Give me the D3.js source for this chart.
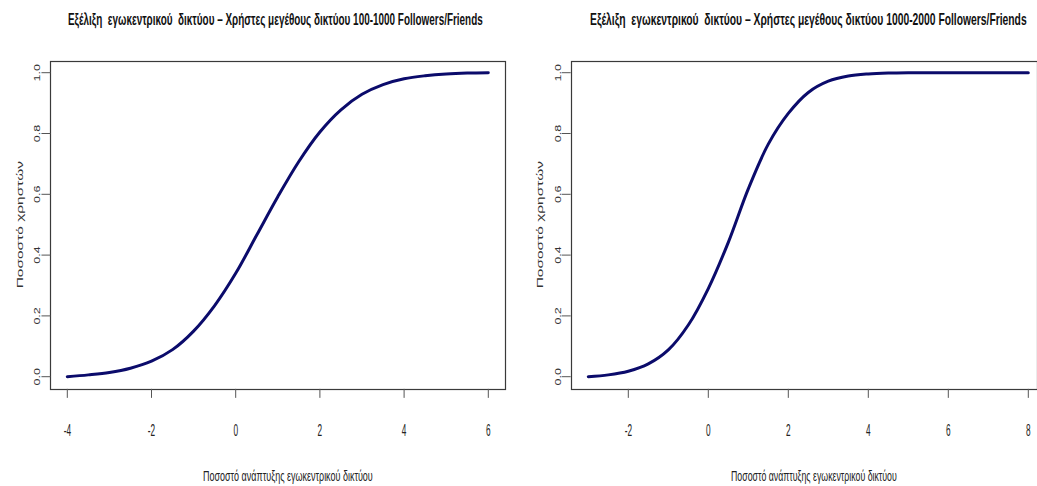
<!DOCTYPE html>
<html>
<head>
<meta charset="utf-8">
<script src="https://cdn.jsdelivr.net/npm/d3@7"></script>
<style>
  html, body { margin: 0; padding: 0; background: #fff; }
  svg { display: block; font-family: "Liberation Sans", Arial, sans-serif; }
  text { white-space: pre; }
</style>
</head>
<body>
<svg id="chart" width="1037" height="486"></svg>
<script>
// Growth curves of the ego-centric network, two user groups
const xLeft  = [-4, -3.5, -3, -2.5, -2, -1.5, -1, -0.5, 0, 0.5, 1, 1.5, 2, 2.5, 3, 3.5, 4, 4.5, 5, 5.5, 6];
const yLeft  = [0.000, 0.006, 0.014, 0.028, 0.051, 0.089, 0.150, 0.234, 0.340, 0.466, 0.592, 0.708, 0.805, 0.878, 0.929, 0.961, 0.980, 0.990, 0.996, 0.999, 1.000];

const xRight = [-3, -2.5, -2, -1.5, -1, -0.5, 0, 0.5, 1, 1.5, 2, 2.5, 3, 3.5, 4, 4.5, 5, 5.5, 6, 6.5, 7, 7.5, 8];
const yRight = [0.000, 0.006, 0.018, 0.042, 0.088, 0.170, 0.290, 0.442, 0.618, 0.765, 0.866, 0.935, 0.972, 0.989, 0.996, 0.999, 1.000, 1.000, 1.000, 1.000, 1.000, 1.000, 1.000];

const xTicksLeft  = [-4, -2, 0, 2, 4, 6];
const xTicksRight = [-2, 0, 2, 4, 6, 8];
const yTicks      = [0, 0.2, 0.4, 0.6, 0.8, 1.0];

const titleLeft  = "Εξέλιξη  εγωκεντρικού  δικτύου – Χρήστες μεγέθους δικτύου 100-1000 Followers/Friends";
const titleRight = "Εξέλιξη  εγωκεντρικού  δικτύου – Χρήστες μεγέθους δικτύου 1000-2000 Followers/Friends";
const xTitle = "Ποσοστό ανάπτυξης εγωκεντρικού δικτύου";
const yTitle = "Ποσοστό χρηστών";

const svg = d3.select("#chart");
const lineColor = "#0b0b6b";

// draw a text squeezed horizontally so that it spans [x0, x0 + w]
function fitText(g, str, x0, baseline, w, size, weight, fill) {
  const t = g.append("text")
    .attr("font-size", size).attr("font-weight", weight).attr("fill", fill)
    .text(str);
  const natural = t.node().getComputedTextLength();
  t.attr("transform", `translate(${x0},${baseline}) scale(${w / natural},1)`);
  return t;
}

function panel(o) {
  const g = svg.append("g");
  const x = d3.scaleLinear().domain(o.xDomain).range(o.xRange);
  const y = d3.scaleLinear().domain([0, 1]).range([376.7, 72.7]);

  // plot frame (4% padding around data range)
  const xs = o.xs, pad = (xs[xs.length - 1] - xs[0]) * 0.04;
  const bx0 = x(xs[0] - pad), bx1 = Math.min(x(xs[xs.length - 1] + pad), 1036.5);
  const by0 = y(1.04), by1 = y(-0.04);
  g.append("rect")
    .attr("x", Math.round(bx0) + 0.5).attr("y", Math.round(by0) + 0.5)
    .attr("width", Math.round(bx1 - bx0)).attr("height", Math.round(by1 - by0))
    .attr("fill", "none").attr("stroke", "#3a3a3a").attr("stroke-width", 1.2);

  // x axis ticks and labels
  o.xTicks.forEach(t => {
    const px = x(t);
    g.append("line").attr("x1", px).attr("x2", px)
      .attr("y1", by1).attr("y2", by1 + 9)
      .attr("stroke", "#555").attr("stroke-width", 1);
    g.append("text")
      .attr("transform", `translate(${px},${436}) scale(0.5,1)`)
      .attr("text-anchor", "middle")
      .attr("font-size", 16.5).attr("fill", "#222")
      .text(String(t));
  });

  // y axis ticks and labels
  yTicks.forEach(t => {
    const py = y(t);
    g.append("line").attr("x1", bx0 - 9).attr("x2", bx0)
      .attr("y1", py).attr("y2", py)
      .attr("stroke", "#555").attr("stroke-width", 1);
    g.append("text")
      .attr("transform", `translate(${bx0 - 10},${py}) scale(0.66,1) rotate(-90)`)
      .attr("text-anchor", "middle")
      .attr("font-size", 12.5).attr("fill", "#333")
      .text(d3.format(".1f")(t));
  });

  // curve
  const line = d3.line()
    .x((d, i) => x(o.xs[i]))
    .y(d => y(d))
    .curve(d3.curveCatmullRom.alpha(0.5));
  g.append("path")
    .datum(o.ys)
    .attr("d", line)
    .attr("fill", "none")
    .attr("stroke", lineColor)
    .attr("stroke-width", 3)
    .attr("stroke-linecap", "round");

  // titles
  fitText(g, o.title, o.titleX0, 24.5, o.titleW, 16.5, "bold", "#111");
  fitText(g, xTitle, o.xTitleX0, 481, o.xTitleW, 14, "normal", "#222");

  g.append("text")
    .attr("transform", `translate(${o.yTitleX},${(by0 + by1) / 2}) scale(0.62,1) rotate(-90)`)
    .attr("text-anchor", "middle")
    .attr("font-size", 15.5).attr("fill", "#333")
    .text(yTitle);
}

panel({
  xs: xLeft, ys: yLeft, xDomain: [-4, 6], xRange: [67.3, 488.3], xTicks: xTicksLeft,
  title: titleLeft, titleX0: 68, titleW: 415,
  xTitleX0: 203, xTitleW: 170, yTitleX: 23
});
panel({
  xs: xRight, ys: yRight, xDomain: [-2, 8], xRange: [628.3, 1028.3], xTicks: xTicksRight,
  title: titleRight, titleX0: 590, titleW: 437,
  xTitleX0: 731, xTitleW: 166, yTitleX: 543
});
</script>
</body>
</html>
